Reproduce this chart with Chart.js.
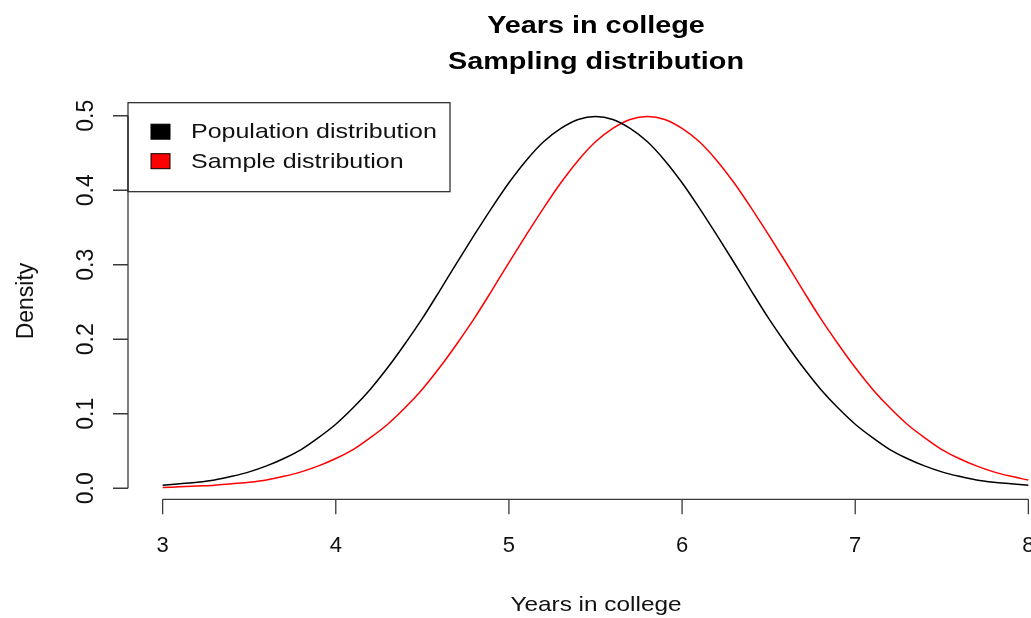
<!DOCTYPE html>
<html>
<head>
<meta charset="utf-8">
<script src="https://cdn.jsdelivr.net/npm/chart.js@4.4.1/dist/chart.umd.min.js"></script>
<style>
  html, body { margin: 0; padding: 0; background: #fff; overflow: hidden; }
  #wrap { width: 1031px; height: 618px; overflow: hidden; }
</style>
</head>
<body>
<div id="wrap"><canvas id="myChart" width="1100" height="618"></canvas></div>
<script>
// years in college (x values)
const years = [3.0,3.1,3.2,3.3,3.4,3.5,3.6,3.7,3.8,3.9,
  4.0,4.1,4.2,4.3,4.4,4.5,4.6,4.7,4.8,4.9,
  5.0,5.1,5.2,5.3,5.4,5.5,5.6,5.7,5.8,5.9,
  6.0,6.1,6.2,6.3,6.4,6.5,6.6,6.7,6.8,6.9,
  7.0,7.1,7.2,7.3,7.4,7.5,7.6,7.7,7.8,7.9,8.0]

// density
const populationDensity = [0.004,0.006,0.008,0.011,0.016,0.022,0.030,0.040,0.052,0.068,
  0.086,0.108,0.133,0.162,0.194,0.228,0.265,0.303,0.340,0.376,
  0.410,0.440,0.465,0.483,0.495,0.499,0.495,0.483,0.465,0.440,
  0.410,0.376,0.340,0.303,0.265,0.228,0.194,0.162,0.133,0.108,
  0.086,0.068,0.052,0.040,0.030,0.022,0.016,0.011,0.008,0.006,0.004]

// density
const sampleDensity = [0.001,0.002,0.003,0.004,0.006,0.008,0.011,0.016,0.022,0.030,
  0.040,0.052,0.068,0.086,0.108,0.133,0.162,0.194,0.228,0.265,
  0.303,0.340,0.376,0.410,0.440,0.465,0.483,0.495,0.499,0.495,
  0.483,0.465,0.440,0.410,0.376,0.340,0.303,0.265,0.228,0.194,
  0.162,0.133,0.108,0.086,0.068,0.052,0.040,0.030,0.022,0.016,0.011]

const seriesNames = ['Population distribution', 'Sample distribution']
const seriesColors = ['#000000', '#ff0000']
const xTicks = [3, 4, 5, 6, 7, 8]
const yTicks = [0, 0.1, 0.2, 0.3, 0.4, 0.5]
const yTickLabels = ['0.0', '0.1', '0.2', '0.3', '0.4', '0.5']
const titleLines = ['Years in college', 'Sampling distribution']
const xTitle = 'Years in college'
const yTitle = 'Density'

function toPoints(ys){
  return years.map((x, i) => ({x: x, y: ys[i]}))
}

const FONT = '"Liberation Sans", Arial, Helvetica, sans-serif'

// draws axes, title and legend the way base R does
const rStyle = {
  id: 'rStyle',
  afterDraw(chart){
    const ctx = chart.ctx
    const xs = chart.scales.x
    const ys = chart.scales.y
    const area = chart.chartArea
    ctx.save()
    ctx.strokeStyle = '#3a3a3a'
    ctx.lineWidth = 1.3
    ctx.fillStyle = '#111'

    // x axis
    const xAxisY = area.bottom
    ctx.beginPath()
    ctx.moveTo(xs.getPixelForValue(xTicks[0]), xAxisY)
    ctx.lineTo(xs.getPixelForValue(xTicks[xTicks.length - 1]), xAxisY)
    xTicks.forEach(t => {
      const px = xs.getPixelForValue(t)
      ctx.moveTo(px, xAxisY)
      ctx.lineTo(px, xAxisY + 15)
    })
    ctx.stroke()
    ctx.font = '22px ' + FONT
    ctx.textAlign = 'center'
    ctx.textBaseline = 'alphabetic'
    xTicks.forEach(t => {
      ctx.fillText(String(t), xs.getPixelForValue(t), 552)
    })

    // y axis
    const yAxisX = area.left
    ctx.beginPath()
    ctx.moveTo(yAxisX, ys.getPixelForValue(yTicks[0]))
    ctx.lineTo(yAxisX, ys.getPixelForValue(yTicks[yTicks.length - 1]))
    yTicks.forEach(t => {
      const py = ys.getPixelForValue(t)
      ctx.moveTo(yAxisX, py)
      ctx.lineTo(yAxisX - 15, py)
    })
    ctx.stroke()
    ctx.font = '23px ' + FONT
    yTicks.forEach((t, i) => {
      ctx.save()
      ctx.translate(93, ys.getPixelForValue(t))
      ctx.rotate(-Math.PI / 2)
      ctx.fillText(yTickLabels[i], 0, 0)
      ctx.restore()
    })

    // axis titles
    ctx.save()
    ctx.translate(33, 301)
    ctx.rotate(-Math.PI / 2)
    ctx.font = '23px ' + FONT
    ctx.fillText(yTitle, 0, 0)
    ctx.restore()

    ctx.save()
    ctx.translate(596, 611)
    ctx.scale(1.16, 1)
    ctx.font = '21px ' + FONT
    ctx.fillText(xTitle, 0, 0)
    ctx.restore()

    // main title
    ctx.font = 'bold 24px ' + FONT
    ctx.fillStyle = '#000'
    titleLines.forEach((line, i) => {
      ctx.save()
      ctx.translate(596, 33 + i * 36)
      ctx.scale(1.2, 1)
      ctx.fillText(line, 0, 0)
      ctx.restore()
    })

    // legend, top left of the plot region
    ctx.strokeStyle = '#222'
    ctx.lineWidth = 1.2
    ctx.strokeRect(area.left, area.top, 322, 89)
    ctx.textAlign = 'left'
    ctx.textBaseline = 'middle'
    seriesNames.forEach((name, i) => {
      const cy = area.top + 29 + i * 29.5
      ctx.fillStyle = seriesColors[i]
      ctx.fillRect(area.left + 23, cy - 7.5, 19, 15)
      ctx.strokeStyle = '#000'
      ctx.lineWidth = 1
      ctx.strokeRect(area.left + 23, cy - 7.5, 19, 15)
      ctx.save()
      ctx.translate(area.left + 63, cy + 1)
      ctx.scale(1.19, 1)
      ctx.fillStyle = '#111'
      ctx.font = '21px ' + FONT
      ctx.fillText(name, 0, 0)
      ctx.restore()
    })
    ctx.restore()
  }
}

const data = {
  datasets: [{
    label: seriesNames[0],
    data: toPoints(populationDensity),
    borderColor: seriesColors[0],
    backgroundColor: seriesColors[0],
    borderWidth: 1.5,
    pointRadius: 0,
    cubicInterpolationMode: 'monotone'
  }, {
    label: seriesNames[1],
    data: toPoints(sampleDensity),
    borderColor: seriesColors[1],
    backgroundColor: seriesColors[1],
    borderWidth: 1.5,
    pointRadius: 0,
    cubicInterpolationMode: 'monotone'
  }]
}

const config = {
  type: 'line',
  data: data,
  options: {
    responsive: false,
    animation: false,
    devicePixelRatio: 1,
    layout: {
      padding: {left: 128, right: 37, top: 102.7, bottom: 118.7}
    },
    scales: {
      x: {type: 'linear', min: 2.8, max: 8.2, display: false},
      y: {type: 'linear', min: -0.0148, max: 0.5175, display: false}
    },
    plugins: {
      legend: {display: false},
      title: {display: false},
      tooltip: {enabled: false}
    }
  },
  plugins: [rStyle]
}

const myChart = new Chart(
  document.getElementById('myChart'),
  config
)
</script>
</body>
</html>
